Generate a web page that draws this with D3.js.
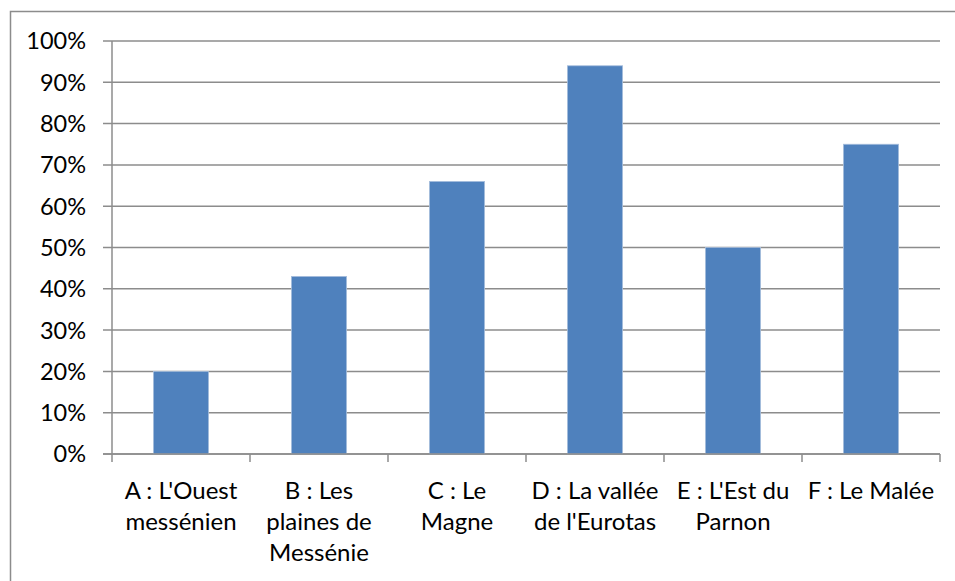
<!DOCTYPE html>
<html><head><meta charset="utf-8">
<script src="https://cdn.jsdelivr.net/npm/d3@7"></script>
<style>body{margin:0;background:#fff}svg{display:block}text{font-family:Lato,"Open Sans",sans-serif;fill:#000}</style>
</head><body>
<svg id="c" width="955" height="581"></svg>
<script>
const categories = ["A : L'Ouest messénien","B : Les plaines de Messénie","C : Le Magne","D : La vallée de l'Eurotas","E : L'Est du Parnon","F : Le Malée"];
const labelLines = [["A : L'Ouest","messénien"],["B : Les","plaines de","Messénie"],["C : Le","Magne"],["D : La vallée","de l'Eurotas"],["E : L'Est du","Parnon"],["F : Le Malée"]];
const values = [0.20,0.43,0.66,0.94,0.50,0.75];
const yTicks = [0,0.1,0.2,0.3,0.4,0.5,0.6,0.7,0.8,0.9,1.0];

const svg = d3.select("#c");
const gray = "#8c8c8c";
svg.append("rect").attr("x",10.5).attr("y",11.5).attr("width",960).attr("height",600)
  .attr("fill","none").attr("stroke",gray).attr("stroke-width",1.5);

const x = d3.scaleBand().domain(categories).range([112,940]).paddingInner(0.6).paddingOuter(0.3);
const y = d3.scaleLinear().domain([0,1]).range([454,41]);

svg.append("g").selectAll("line").data(yTicks).join("line")
  .attr("x1",103).attr("x2",940).attr("y1",d=>y(d)).attr("y2",d=>y(d))
  .attr("stroke",gray).attr("stroke-width",1.5);

svg.append("g").selectAll("text").data(yTicks).join("text")
  .attr("x",86).attr("y",d=>y(d)).attr("dy","0.36em").attr("text-anchor","end")
  .attr("font-size",23.5).text(d=>d3.format(".0%")(d));

svg.append("g").selectAll("rect").data(values).join("rect")
  .attr("x",(d,i)=>x(categories[i])).attr("width",x.bandwidth())
  .attr("y",d=>y(d)).attr("height",d=>y(0)-y(d))
  .attr("fill","#4f81bd").attr("stroke","#a7bedc").attr("stroke-width",0.8);

svg.append("line").attr("x1",112).attr("x2",112).attr("y1",y(1)).attr("y2",y(0)).attr("stroke",gray).attr("stroke-width",1.5);
svg.append("line").attr("x1",103).attr("x2",940).attr("y1",y(0)).attr("y2",y(0)).attr("stroke",gray).attr("stroke-width",1.5);
const step = x.step();
const bounds = d3.range(categories.length+1).map(i=>112+i*step);
svg.append("g").selectAll("line").data(bounds).join("line")
  .attr("x1",d=>d).attr("x2",d=>d).attr("y1",y(0)).attr("y2",y(0)+8)
  .attr("stroke",gray).attr("stroke-width",1.5);

const xl = svg.append("g").selectAll("text").data(categories).join("text")
  .attr("text-anchor","middle").attr("font-size",24)
  .attr("transform",d=>`translate(${x(d)+x.bandwidth()/2},0)`);
xl.each(function(d,i){
  d3.select(this).selectAll("tspan").data(labelLines[i]).join("tspan")
    .attr("x",0).attr("y",(t,j)=>499+j*31).text(t=>t);
});
</script>
</body></html>
